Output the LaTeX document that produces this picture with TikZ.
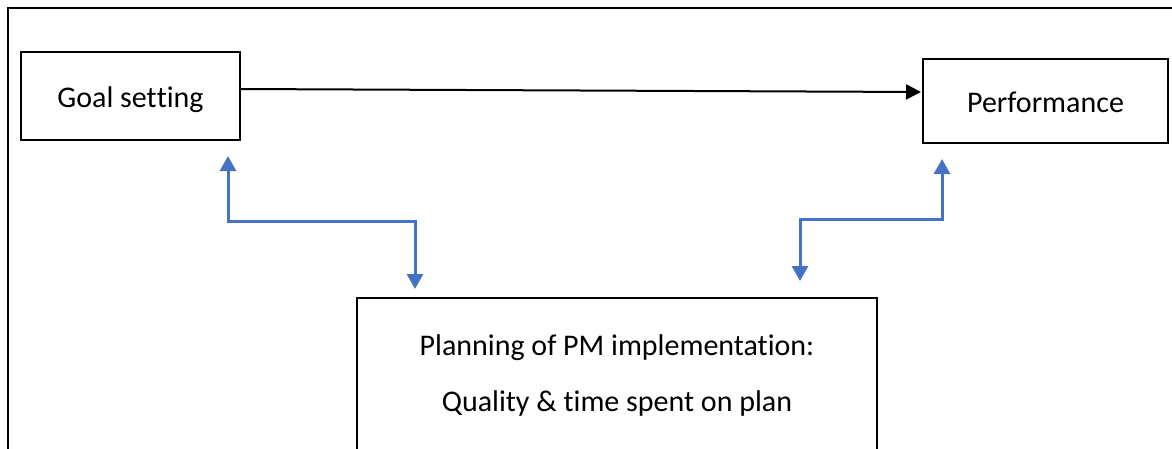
\documentclass[tikz,border=0pt]{standalone}
\usepackage{fontspec}
\setmainfont[Ligatures=NoCommon]{Carlito}
\usetikzlibrary{arrows.meta,calc}
\definecolor{linkblue}{HTML}{4472C4}
\newcommand{\nolig}{\kern0pt{}}
\begin{document}
\begin{tikzpicture}[x=1pt,y=-1pt,
  box/.style={draw=black,line width=2pt,inner sep=0pt,align=center,font=\fontsize{30}{56}\selectfont},
  onebox/.style={box,text height=22pt,text depth=0pt},
  conn/.style={draw=linkblue,line width=3pt,{Triangle[length=15pt,width=16pt]}-{Triangle[length=15pt,width=16pt]}},
  main/.style={draw=black,line width=2pt,-{Triangle[length=15pt,width=15pt]}}]
\useasboundingbox (0,0) rectangle (1172,448);
\clip (0,0) rectangle (1172,448);
\draw[line width=2.7pt] (8,460) -- (8,8) -- (1180,8);
\node[onebox,minimum width=219pt,minimum height=88pt] (goal) at (130.5,96) {Goal set\nolig t\nolig ing};
\node[onebox,minimum width=245pt,minimum height=84pt] (perf) at (1045.5,101) {Performance};
\node[box,minimum width=520pt,minimum height=154pt] (plan) at (617,375) {Planning of PM implementat\nolig ion:\\Quality \& t\nolig ime spent on plan};
\draw[main] ($(goal.east)+(0,-7)$) -- ($(perf.west)+(-1,-9)$);
\draw[conn] ($(goal.south)+(97.5,15)$) |- ($(plan.north)+(-202,-76)$) -- ($(plan.north)+(-202,-8)$);
\draw[conn] ($(perf.south)+(-103.5,15)$) |- ($(plan.north)+(183,-78)$) -- ($(plan.north)+(183,-16)$);
\end{tikzpicture}
\end{document}
